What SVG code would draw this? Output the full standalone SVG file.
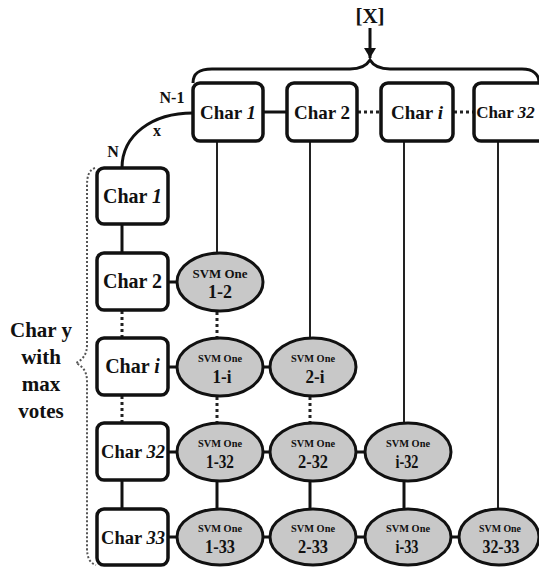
<svg xmlns="http://www.w3.org/2000/svg" width="539" height="570" viewBox="0 0 539 570">
<style>
text{font-family:"Liberation Serif","Times New Roman",serif;font-weight:bold;fill:#111;text-anchor:middle}
.box{fill:#fff;stroke:#111;stroke-width:3.5}
.ell{fill:#c8c8c8;stroke:#111;stroke-width:3}
.ch{font-size:20px}
.it{font-style:italic}
.svm{font-size:11px}
.num{font-size:19px}
.lbl{font-size:21px}
.sm{font-size:16px}
.thin{stroke:#222;stroke-width:2;fill:none}
.solid{stroke:#111;stroke-width:3;fill:none}
.dot{stroke:#222;stroke-width:3;stroke-dasharray:3,3;fill:none}
.brace{stroke:#111;stroke-width:3;fill:none}
.lbrace{stroke:#555;stroke-width:2;stroke-dasharray:2,2;fill:none}
</style>
<defs>
<marker id="ah" markerUnits="userSpaceOnUse" markerWidth="12" markerHeight="12" refX="10" refY="6" orient="auto">
<path d="M0,0 L10,6 L0,12 z" fill="#111"/>
</marker>
</defs>
<g id="connectors">
<path class="brace" d="M193,83 C193,73 199,69 212,69 L350,69 C362,69 367,65 370,60 C373,65 378,69 390,69 L522,69 C534,69 539,75 539,83"/>
<line class="solid" x1="370" y1="28" x2="370" y2="58" marker-end="url(#ah)"/>
<path class="brace" d="M193,113 C152,113 122,135 122,168"/>
<line class="solid" x1="263" y1="112" x2="287" y2="112"/>
<line class="dot" x1="358" y1="112" x2="381" y2="112"/>
<line class="dot" x1="454" y1="112" x2="474" y2="112"/>
<line class="thin" x1="217" y1="141" x2="217" y2="253"/>
<line class="thin" x1="310" y1="141" x2="310" y2="338"/>
<line class="thin" x1="404" y1="141" x2="404" y2="423"/>
<line class="thin" x1="498" y1="141" x2="498" y2="509"/>
<line class="solid" x1="122" y1="224" x2="122" y2="253"/>
<line class="dot" x1="122" y1="311" x2="122" y2="338"/>
<line class="dot" x1="122" y1="396" x2="122" y2="423"/>
<line class="solid" x1="122" y1="480" x2="122" y2="509"/>
<line class="dot" x1="217" y1="312" x2="217" y2="338"/>
<line class="dot" x1="217" y1="397" x2="217" y2="423"/>
<line class="solid" x1="217" y1="481" x2="217" y2="508"/>
<line class="dot" x1="310" y1="397" x2="310" y2="423"/>
<line class="solid" x1="310" y1="481" x2="310" y2="508"/>
<line class="solid" x1="404" y1="481" x2="404" y2="508"/>
<line class="solid" x1="168" y1="282" x2="177" y2="282"/>
<line class="solid" x1="168" y1="367" x2="177" y2="367"/>
<line class="solid" x1="263" y1="367" x2="270" y2="367"/>
<line class="solid" x1="168" y1="452" x2="177" y2="452"/>
<line class="solid" x1="263" y1="452" x2="270" y2="452"/>
<line class="solid" x1="356" y1="452" x2="365" y2="452"/>
<line class="solid" x1="168" y1="537" x2="177" y2="537"/>
<line class="solid" x1="263" y1="537" x2="270" y2="537"/>
<line class="solid" x1="356" y1="537" x2="365" y2="537"/>
<line class="solid" x1="451" y1="537" x2="459" y2="537"/>
<path class="lbrace" d="M95,168 C89,170 87,176 87,186 L87,345 C87,355 82,360 76,363 C82,366 87,371 87,381 L87,548 C87,558 90,563 96,565"/>
</g>
<g id="labels">
<text class="lbl" x="370" y="23">[X]</text>
<text class="sm" x="172" y="103">N-1</text>
<text class="sm" x="157" y="136">x</text>
<text class="sm" x="113" y="157">N</text>
<text class="lbl" x="41" y="337">Char y</text>
<text class="lbl" x="41" y="364">with</text>
<text class="lbl" x="41" y="391">max</text>
<text class="lbl" x="41" y="418">votes</text>
</g>
<g id="top-char1"><rect class="box" x="193" y="83" width="70" height="58" rx="7"/><text x="228" y="119" style="font-size:19px">Char <tspan class="it">1</tspan></text></g>
<g id="top-char2"><rect class="box" x="287" y="83" width="70" height="58" rx="7"/><text x="322" y="119" style="font-size:19px">Char 2</text></g>
<g id="top-chari"><rect class="box" x="381" y="83" width="72" height="58" rx="7"/><text x="417" y="119" style="font-size:19px">Char <tspan class="it">i</tspan></text></g>
<g id="top-char32"><rect class="box" x="474" y="83" width="72" height="58" rx="7"/><text x="505.5" y="118" style="font-size:17px">Char <tspan class="it">32</tspan></text></g>
<g id="left-char1"><rect class="box" x="97" y="168" width="71" height="56" rx="7"/><text class="ch" x="132.5" y="203">Char <tspan class="it">1</tspan></text></g>
<g id="left-char2"><rect class="box" x="97" y="253" width="71" height="57" rx="7"/><text class="ch" x="132.5" y="288">Char 2</text></g>
<g id="left-chari"><rect class="box" x="97" y="338" width="71" height="57" rx="7"/><text class="ch" x="132.5" y="373">Char <tspan class="it">i</tspan></text></g>
<g id="left-char32"><rect class="box" x="97" y="423" width="71" height="57" rx="7"/><text x="133" y="458" style="font-size:18.5px">Char <tspan class="it">32</tspan></text></g>
<g id="left-char33"><rect class="box" x="97" y="509" width="71" height="56" rx="7"/><text x="133" y="544" style="font-size:18.5px">Char <tspan class="it">33</tspan></text></g>
<g id="svm-1-2"><ellipse class="ell" cx="220" cy="282" rx="43" ry="29"/><text x="220" y="278" style="font-size:13px" textLength="55" lengthAdjust="spacingAndGlyphs">SVM One</text><text class="num" x="220" y="298" textLength="24" lengthAdjust="spacingAndGlyphs">1-2</text></g>
<g id="svm-1-i"><ellipse class="ell" cx="220" cy="367" rx="43" ry="29"/><text class="svm" x="220" y="362" textLength="44" lengthAdjust="spacingAndGlyphs">SVM One</text><text class="num" x="222" y="383" textLength="19" lengthAdjust="spacingAndGlyphs">1-i</text></g>
<g id="svm-2-i"><ellipse class="ell" cx="313" cy="367" rx="43" ry="29"/><text class="svm" x="313" y="362" textLength="44" lengthAdjust="spacingAndGlyphs">SVM One</text><text class="num" x="315" y="383" textLength="19" lengthAdjust="spacingAndGlyphs">2-i</text></g>
<g id="svm-1-32"><ellipse class="ell" cx="220" cy="452" rx="43" ry="29"/><text class="svm" x="220" y="447" textLength="44" lengthAdjust="spacingAndGlyphs">SVM One</text><text class="num" x="220" y="468" textLength="28" lengthAdjust="spacingAndGlyphs">1-32</text></g>
<g id="svm-2-32"><ellipse class="ell" cx="313" cy="452" rx="43" ry="29"/><text class="svm" x="313" y="447" textLength="44" lengthAdjust="spacingAndGlyphs">SVM One</text><text class="num" x="313" y="468" textLength="30" lengthAdjust="spacingAndGlyphs">2-32</text></g>
<g id="svm-i-32"><ellipse class="ell" cx="408" cy="452" rx="43" ry="29"/><text class="svm" x="408" y="447" textLength="44" lengthAdjust="spacingAndGlyphs">SVM One</text><text class="num" x="407" y="468" textLength="23" lengthAdjust="spacingAndGlyphs">i-32</text></g>
<g id="svm-1-33"><ellipse class="ell" cx="220" cy="537" rx="43" ry="28"/><text class="svm" x="220" y="532" textLength="44" lengthAdjust="spacingAndGlyphs">SVM One</text><text class="num" x="220" y="553" textLength="30" lengthAdjust="spacingAndGlyphs">1-33</text></g>
<g id="svm-2-33"><ellipse class="ell" cx="313" cy="537" rx="43" ry="28"/><text class="svm" x="313" y="532" textLength="44" lengthAdjust="spacingAndGlyphs">SVM One</text><text class="num" x="313" y="553" textLength="30" lengthAdjust="spacingAndGlyphs">2-33</text></g>
<g id="svm-i-33"><ellipse class="ell" cx="408" cy="537" rx="43" ry="28"/><text class="svm" x="408" y="532" textLength="44" lengthAdjust="spacingAndGlyphs">SVM One</text><text class="num" x="407" y="553" textLength="23" lengthAdjust="spacingAndGlyphs">i-33</text></g>
<g id="svm-32-33"><ellipse class="ell" cx="499" cy="537" rx="40" ry="28"/><text class="svm" x="500" y="532" textLength="42" lengthAdjust="spacingAndGlyphs">SVM One</text><text class="num" x="501" y="553" textLength="37" lengthAdjust="spacingAndGlyphs">32-33</text></g>
</svg>
